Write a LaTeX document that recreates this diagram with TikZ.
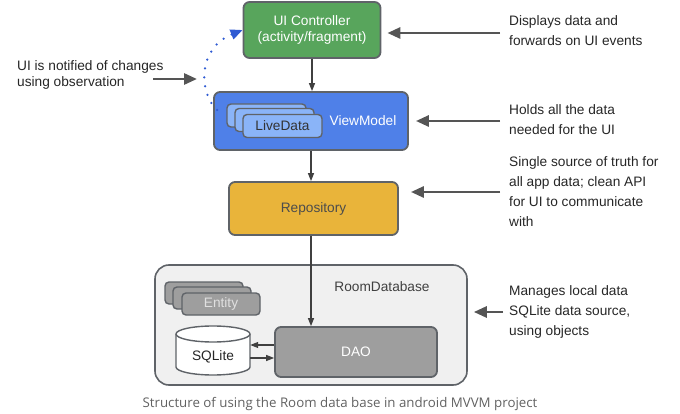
\documentclass[tikz,border=0pt]{standalone}
\usepackage{fontspec}
\setmainfont{Liberation Sans}
\newfontfamily\capfont{Open Sans}
\usetikzlibrary{arrows.meta}
\definecolor{uigreen}{HTML}{58A55C}
\definecolor{vmblue}{HTML}{4F80E8}
\definecolor{ldblue}{HTML}{8AB4F8}
\definecolor{repoyel}{HTML}{E9B43A}
\definecolor{roomgray}{HTML}{F0F0F0}
\definecolor{daogray}{HTML}{9E9E9E}
\definecolor{edge}{HTML}{5F6368}
\definecolor{arrowgray}{HTML}{555555}
\definecolor{dotblue}{HTML}{2F5BD3}
\begin{document}
\begin{tikzpicture}[x=1pt,y=-1pt,
 txt/.style={font=\fontsize{13.7}{16}\selectfont},
 box/.style={draw=edge, line width=1.8pt, rounded corners=6pt, inner sep=0pt, txt},
 small/.style={draw=edge, line width=1.4pt, rounded corners=4pt, inner sep=0pt, minimum width=79pt, minimum height=23pt, txt},
 note/.style={align=left, anchor=west, inner sep=0pt, text=black!85, font=\fontsize{13.7}{20}\selectfont},
 flow/.style={draw=black!75, line width=1.2pt, -{Triangle[length=8pt,width=6pt]}},
 point/.style={draw=arrowgray, line width=2.8pt, -{Triangle[length=13pt,width=11pt]}},
]
\useasboundingbox (0,0) rectangle (680,414);

% UI controller
\node[box, fill=uigreen, text=white, minimum width=137pt, minimum height=56pt, align=center] (ui) at (312,30) {UI Controller\\(activity/fragment)};

% ViewModel
\node[box, fill=vmblue, minimum width=194pt, minimum height=58pt] (vm) at (311,121) {};
\node[txt, text=white] (vmt) at (363,121) {ViewModel};
\node[small, fill=ldblue] (ld3) at (266.5,115.5) {};
\node[small, fill=ldblue] (ld2) at (274.5,120) {};
\node[small, fill=ldblue, text=black!80] (ld1) at (282.5,126) {LiveData};

% Repository
\node[box, fill=repoyel, text=black!70, minimum width=169pt, minimum height=53pt] (repo) at (313.5,208.5) {Repository};

% Room database
\node[draw=edge, line width=1.6pt, rounded corners=14pt, fill=roomgray, minimum width=312pt, minimum height=120pt, inner sep=0pt] (room) at (311,325) {};
\node[txt, text=black!75] (roomt) at (382,287) {RoomDatabase};

\node[small, fill=daogray, minimum width=78pt, minimum height=22pt] (en3) at (204,293) {};
\node[small, fill=daogray, minimum width=78pt, minimum height=22pt] (en2) at (212,298) {};
\node[small, fill=daogray, minimum width=78pt, minimum height=22pt, text=white!88!black] (en1) at (221,304) {Entity};

% SQLite cylinder
\path[draw=edge, line width=1.4pt, fill=white] (176,334) -- (176,367) arc[start angle=180, end angle=360, x radius=37pt, y radius=8pt] -- (250,334) arc[start angle=0, end angle=180, x radius=37pt, y radius=8pt] -- cycle;
\draw[edge, line width=1.4pt] (176,334) arc[start angle=180, end angle=360, x radius=37pt, y radius=8pt];
\node[minimum width=74pt, minimum height=49pt, inner sep=0pt] (sql) at (213,350.5) {};
\node[txt, text=black!85] (sqlt) at (213,357) {SQLite};

% DAO
\node[box, fill=daogray, text=white, minimum width=162pt, minimum height=50pt] (dao) at (356,352) {DAO};

% flow arrows
\draw[flow] (ui.south) -- (ui.south |- vm.north);
\draw[flow] (vm.south) -- (vm.south |- repo.north);
\coordinate (r1) at ([xshift=-2.5pt]repo.south);
\draw[flow] (r1) -- (r1 |- dao.north);
\coordinate (d1) at ([yshift=7pt]dao.west);
\coordinate (d2) at ([yshift=-6pt]dao.west);
\draw[flow] (d1) -- (d1 -| sql.east);
\draw[flow] (d2 -| sql.east) -- (d2);

% notes
\node[note] (n1) at (509,31) {Displays data and\\forwards on UI events};
\node[note] (n2) at (509,120) {Holds all the data\\needed for the UI};
\node[note] (n3) at (509,192) {Single source of truth for\\all app data; clean API\\for UI to communicate\\with};
\node[note] (n4) at (509,312) {Manages local data\\SQLite data source,\\using objects};
\node[note, font=\fontsize{13.7}{16}\selectfont] (n0) at (17,75) {UI is notified of changes\\using observation};

\coordinate (a1) at (500,33);
\coordinate (a2) at (500,121);
\coordinate (a3) at (500,192);
\coordinate (a4) at (503,312);
\draw[point, shorten >=6pt] (a1) -- (a1 -| ui.east);
\draw[point, shorten >=7pt] (a2) -- (a2 -| vm.east);
\draw[point, shorten >=12pt] (a3) -- (a3 -| repo.east);
\draw[point, shorten >=6pt] (a4) -- (a4 -| room.east);
\coordinate (a0) at (153,79);
\coordinate (a0e) at (197,79);
\draw[point] (a0) -- (a0e);

% observation arc
\coordinate (o1) at (217,110);
\draw[dotblue, line width=2.5pt, dash pattern=on 0pt off 9pt, line cap=round, -{Triangle[length=12pt,width=10pt]}] (o1) .. controls (198,92) and (198,48) .. (ui.west);

% caption
\node[font=\capfont\fontsize{13.3}{15}\selectfont, text=black!62] (cap) at (340,404) {Structure of using the Room data base in android MVVM project};
\end{tikzpicture}
\end{document}
